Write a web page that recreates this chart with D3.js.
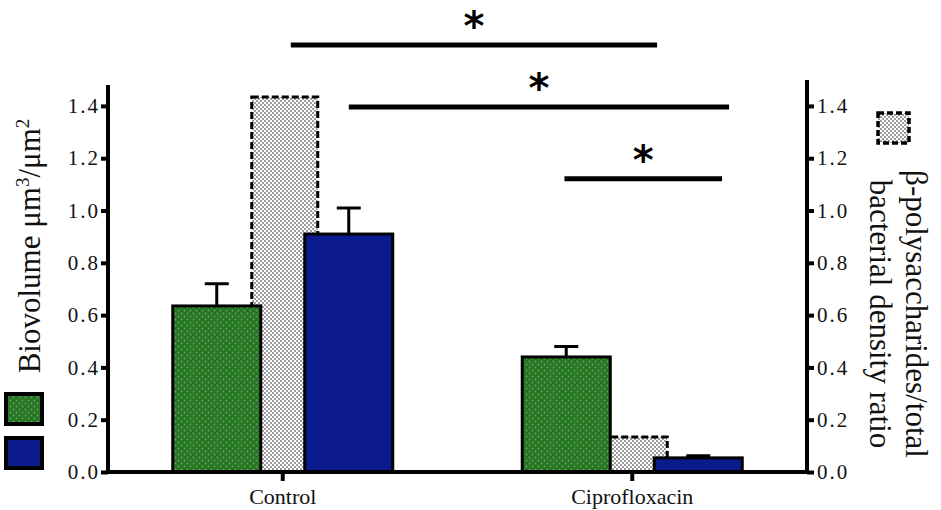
<!DOCTYPE html>
<html>
<head>
<meta charset="utf-8">
<script src="https://cdn.jsdelivr.net/npm/d3@7"></script>
<style>
  body { margin: 0; background: #fff; }
  svg { display: block; font-family: "Liberation Serif", "Times New Roman", serif; }
</style>
</head>
<body>
<svg id="viz"></svg>
<script>
// ----------------------- DATA
const categories = ['Control', 'Ciprofloxacin'];
const biovolumeGreen = [0.635, 0.44];
const biovolumeGreenErr = [0.085, 0.04];
const betaRatio = [1.434, 0.134];
const biovolumeBlue = [0.91, 0.054];
const biovolumeBlueErr = [0.10, 0.008];
const tickValues = [0, 0.2, 0.4, 0.6, 0.8, 1.0, 1.2, 1.4];

// significance bars: start / end in category units, height in axis units
const sigStart = [0.023, 0.189, 0.806];
const sigEnd = [1.071, 1.277, 1.257];
const sigLevel = [1.633, 1.396, 1.121];

// ----------------------- SETTINGS
const W = 941, H = 510;
const left = 108, right = 807, bottom = 472;

const svg = d3.select('#viz').attr('width', W).attr('height', H);

const defs = svg.append('defs');
const greenPat = defs.append('pattern').attr('id', 'greenDots')
  .attr('width', 6).attr('height', 6).attr('patternUnits', 'userSpaceOnUse');
greenPat.append('rect').attr('width', 6).attr('height', 6).attr('fill', '#1f7a1c');
greenPat.append('circle').attr('cx', 1.5).attr('cy', 1.5).attr('r', 0.9).attr('fill', '#8a8a8a');
greenPat.append('circle').attr('cx', 4.5).attr('cy', 4.5).attr('r', 0.9).attr('fill', '#8a8a8a');

const greyPat = defs.append('pattern').attr('id', 'greyDots')
  .attr('width', 4).attr('height', 4).attr('patternUnits', 'userSpaceOnUse');
greyPat.append('rect').attr('width', 4).attr('height', 4).attr('fill', '#fff');
greyPat.append('circle').attr('cx', 1).attr('cy', 1).attr('r', 0.8).attr('fill', '#222');
greyPat.append('circle').attr('cx', 3).attr('cy', 3).attr('r', 0.8).attr('fill', '#222');

// ----------------------- SCALES
const x = d3.scaleBand().domain(categories).range([left, right]);
const inner = d3.scalePoint().domain(['green', 'grey', 'blue']).range([-66, 66]);
const yLeft = d3.scaleLinear().domain([0, 1.48]).range([bottom, 85]);
const yRight = yLeft.copy(); // same spacing on both sides
const xCat = d3.scaleLinear().domain([0, 1])
  .range([x('Control') + x.bandwidth() / 2, x('Ciprofloxacin') + x.bandwidth() / 2]);

const center = c => x(c) + x.bandwidth() / 2;

// ----------------------- BARS
// grey bar first, it sits behind the others
svg.append('g').selectAll('rect')
  .data(categories)
  .join('rect')
  .attr('x', d => center(d) + inner('grey') + 2 - 33)
  .attr('y', (d, i) => yRight(betaRatio[i]))
  .attr('width', 66)
  .attr('height', (d, i) => bottom - yRight(betaRatio[i]))
  .attr('fill', 'url(#greyDots)')
  .attr('stroke', '#000')
  .attr('stroke-width', 3)
  .attr('stroke-dasharray', '7,3');

function drawSeries(vals, errs, key, fill) {
  const g = svg.append('g');
  // error bars
  g.selectAll('path.err')
    .data(categories)
    .join('path')
    .attr('class', 'err')
    .attr('d', (d, i) => {
      const cx = center(d) + inner(key);
      const y0 = yLeft(vals[i]), y1 = yLeft(vals[i] + errs[i]);
      return `M${cx},${y0}V${y1}M${cx - 12},${y1}H${cx + 12}`;
    })
    .attr('stroke', '#000')
    .attr('stroke-width', 3)
    .attr('fill', 'none');
  g.selectAll('rect')
    .data(categories)
    .join('rect')
    .attr('x', d => center(d) + inner(key) - 44)
    .attr('y', (d, i) => yLeft(vals[i]))
    .attr('width', 88)
    .attr('height', (d, i) => bottom - yLeft(vals[i]))
    .attr('fill', fill)
    .attr('stroke', '#000')
    .attr('stroke-width', 3);
}
drawSeries(biovolumeGreen, biovolumeGreenErr, 'green', 'url(#greenDots)');
drawSeries(biovolumeBlue, biovolumeBlueErr, 'blue', '#0b1a8c');

// ----------------------- AXES
const fmt = d3.format('.1f');

const axL = svg.append('g')
  .attr('transform', `translate(${left},0)`)
  .call(d3.axisLeft(yLeft).tickValues(tickValues).tickFormat(fmt).tickSize(7).tickPadding(1));
const axR = svg.append('g')
  .attr('transform', `translate(${right},0)`)
  .call(d3.axisRight(yRight).tickValues(tickValues).tickFormat(fmt).tickSize(7).tickPadding(3));
axR.select('.domain').attr('d', `M0,${bottom}V80`);
const axB = svg.append('g')
  .attr('transform', `translate(0,${bottom})`)
  .call(d3.axisBottom(x).tickSize(9).tickPadding(7));
axB.select('.domain').attr('d', `M${left - 2},0H${right + 2}`);
axL.select('.domain').attr('d', `M0,${bottom + 2}V85`);

[axL, axR, axB].forEach(a => {
  a.attr('font-family', '"Liberation Serif", serif').attr('font-size', 21);
  a.select('.domain').attr('stroke', '#000').attr('stroke-width', 4);
  a.selectAll('.tick line').attr('stroke', '#000').attr('stroke-width', 4);
  a.selectAll('.tick text').attr('fill', '#111');
});
// the y tick labels in the source are set wide
[axL, axR].forEach(a => a.selectAll('.tick text').attr('letter-spacing', 2));
axB.attr('font-size', 22);

// ----------------------- TITLES
svg.append('text')
  .attr('transform', 'translate(40,246) rotate(-90)')
  .attr('text-anchor', 'middle')
  .style('font-size', '31px')
  .attr('fill', '#111')
  .html('Biovolume μm<tspan dy="-11" font-size="19">3</tspan><tspan dy="11">/μm</tspan><tspan dy="-11" font-size="19">2</tspan>');

const rt = svg.append('text')
  .attr('text-anchor', 'middle')
  .style('font-size', '31px')
  .attr('fill', '#111');
rt.append('tspan').attr('x', 0).attr('y', 0).text('β-polysaccharides/total');
rt.append('tspan').attr('x', 0).attr('y', 36).text('bacterial density ratio');
rt.attr('transform', 'translate(906,314) rotate(90)');

// ----------------------- LEGEND
svg.append('rect').attr('x', 6).attr('y', 394).attr('width', 36).attr('height', 30)
  .attr('fill', 'url(#greenDots)').attr('stroke', '#000').attr('stroke-width', 4);
svg.append('rect').attr('x', 6).attr('y', 438).attr('width', 36).attr('height', 30)
  .attr('fill', '#0b1a8c').attr('stroke', '#000').attr('stroke-width', 4);
svg.append('rect').attr('x', 878).attr('y', 113).attr('width', 31).attr('height', 30)
  .attr('fill', 'url(#greyDots)').attr('stroke', '#000').attr('stroke-width', 3.5)
  .attr('stroke-dasharray', '6,3');

// ----------------------- SIGNIFICANCE
const sig = svg.append('g');
sig.selectAll('line')
  .data(sigLevel)
  .join('line')
  .attr('x1', (d, i) => xCat(sigStart[i]))
  .attr('x2', (d, i) => xCat(sigEnd[i]))
  .attr('y1', d => yLeft(d))
  .attr('y2', d => yLeft(d))
  .attr('stroke', '#000')
  .attr('stroke-width', 5);
sig.selectAll('text')
  .data(sigLevel)
  .join('text')
  .attr('x', (d, i) => (xCat(sigStart[i]) + xCat(sigEnd[i])) / 2)
  .attr('y', d => yLeft(d) - 5)
  .attr('text-anchor', 'middle')
  .style('font-family', '"DejaVu Sans", sans-serif')
  .style('font-weight', 'bold')
  .style('font-size', '40px')
  .text('*');
</script>
</body>
</html>
